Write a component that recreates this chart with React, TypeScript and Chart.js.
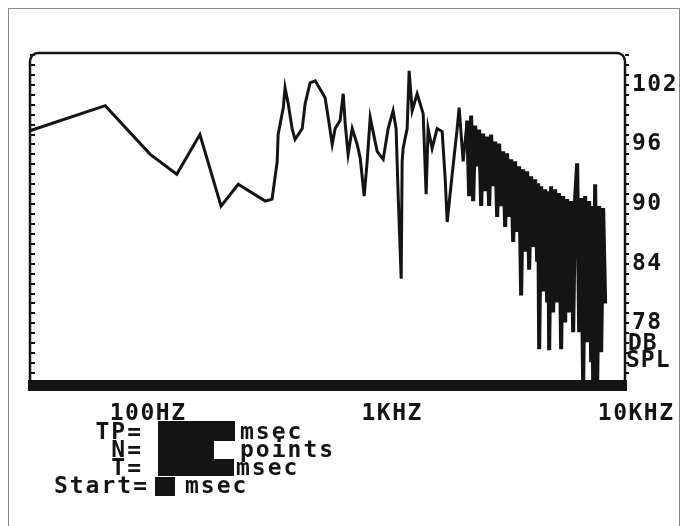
import React, { useEffect, useRef } from "react";
import { Chart, registerables } from "chart.js";
Chart.register(...registerables);

// Frequency (Hz) of each traced point of the response
const FREQ_HZ = [
  33, 66.7, 102, 131, 163, 199, 234, 302, 322, 338, 341, 358, 364, 375, 389, 400,
  428, 440, 461, 484, 517, 531, 547, 568, 584, 612, 630, 642, 660, 686, 719, 740,
  768, 790, 813, 868, 919, 963, 1009, 1038, 1058, 1089, 1099, 1109, 1152, 1174, 1208,
  1266, 1302, 1340, 1378, 1404, 1458, 1529, 1603, 1649, 1681, 1762, 1847, 1882, 1954,
  2030, 2068, 2107, 2148, 2189, 2230, 2273, 2316, 2360, 2405, 2451, 2498, 2545, 2594,
  2643, 2694, 2745, 2797, 2851, 2905, 2960, 3017, 3074, 3133, 3192, 3253, 3315, 3378,
  3443, 3508, 3575, 3643, 3713, 3784, 3856, 3929, 3966, 4004, 4080, 4158, 4236, 4317,
  4358, 4400, 4483, 4569, 4656, 4745, 4835, 4927, 5021, 5117, 5214, 5314, 5415, 5518,
  5623, 5730, 5840, 5951, 6064, 6180, 6298, 6418, 6540, 6602, 6664, 6791, 6921, 7053,
  7187, 7324, 7464
];

// Sound pressure level (dB SPL) at each frequency above
const SPL_DB = [
  97.4, 99.9, 95.0, 93.0, 97.0, 89.8, 92.0, 90.3, 90.5, 94.3, 97.0, 99.7, 101.7, 100.1, 97.6, 96.5,
  97.6, 100.1, 102.2, 102.4, 101.2, 100.7, 98.7, 96.0, 97.6, 98.4, 101.1, 98.1, 95.0, 97.6, 96.0, 94.6,
  90.8, 94.3, 98.7, 95.3, 94.5, 97.6, 99.4, 97.6, 91.0, 82.5, 94.3, 95.6, 97.6, 103.4, 99.4,
  101.1, 100.1, 99.1, 91.0, 97.6, 95.6, 97.6, 97.3, 92.6, 88.2, 93.0, 97.6, 99.7, 94.3,
  98.4, 90.8, 98.9, 90.3, 97.9, 93.8, 97.5, 89.8, 97.1, 91.3, 96.8, 89.8, 97.0, 91.8,
  96.3, 88.7, 96.1, 89.8, 95.3, 87.7, 95.1, 88.7, 94.5, 86.2, 94.3, 87.2, 93.8, 80.8,
  93.5, 85.2, 93.3, 83.4, 92.8, 85.7, 92.5, 84.2, 92.1, 75.4, 91.8, 81.2, 91.5, 80.1,
  91.3, 75.3, 91.8, 79.1, 91.5, 80.1, 91.1, 75.4, 90.8, 78.1, 90.5, 79.1, 90.3, 77.1,
  90.7, 94.1, 77.1, 90.6, 71.5, 90.8, 76.1, 90.3, 74.1, 89.8, 71.5, 92.0, 71.5, 89.8,
  75.1, 89.6, 80.0
];

const X_TICKS = [100, 1000, 10000];
const X_TICK_LABELS = ["100HZ", "1KHZ", "10KHZ"];
// every 1 dB gets a tick mark; only these get a label
const Y_TICKS = [
  73, 74, 75, 76, 77, 78, 79, 80, 81, 82, 83, 84, 85, 86, 87, 88, 89, 90, 91,
  92, 93, 94, 95, 96, 97, 98, 99, 100, 101, 102, 103, 104, 105
];
const Y_LABELED_TICKS = [78, 84, 90, 96, 102];
const Y_UNIT_LINES = ["DB", "SPL"];
const Y_MIN = 72.2;
const Y_MAX = 105.2;

const FONT_FAMILY = "'DejaVu Sans Mono', 'Liberation Mono', monospace";
const INK = "#141414";

const framePlugin = {
  id: "scopeFrame",
  beforeUpdate(chart: any) {
    chart.ctx.letterSpacing = "1.5px";
  },
  beforeDraw(chart: any) {
    chart.ctx.letterSpacing = "1.5px";
  },
  afterDatasetsDraw(chart: any) {
    const { ctx, chartArea } = chart;
    const { left, top, right, bottom } = chartArea;
    ctx.save();
    ctx.strokeStyle = INK;
    ctx.lineWidth = 2.5;
    ctx.beginPath();
    ctx.roundRect(left, top, right - left, bottom - top + 6, 8);
    ctx.stroke();
    ctx.fillStyle = INK;
    ctx.fillRect(left - 2, bottom - 1, right - left + 4, 11);
    ctx.restore();
  },
};

export default function App() {
  const ref = useRef<HTMLCanvasElement>(null);

  useEffect(() => {
    if (!ref.current) return;
    const points = FREQ_HZ.map((f, i) => ({ x: f, y: SPL_DB[i] }));
    const font = { family: FONT_FAMILY, weight: "bold" as const, size: 23 };
    const setYTicks = (s: any) => {
      s.ticks = Y_TICKS.map((v) => ({ value: v }));
    };
    const chart = new Chart(ref.current, {
      type: "line",
      data: {
        datasets: [
          {
            data: points,
            borderColor: INK,
            borderWidth: 3,
            pointRadius: 0,
            tension: 0,
            fill: false,
            segment: {
              borderWidth: (c: any) => (c.p0.parsed.x >= 2000 ? 4 : 3),
            },
          },
        ],
      },
      plugins: [framePlugin],
      options: {
        responsive: false,
        animation: false,
        layout: { padding: { top: 53, left: 0, right: 0, bottom: 0 } },
        plugins: { legend: { display: false }, tooltip: { enabled: false } },
        scales: {
          x: {
            type: "logarithmic",
            position: "bottom",
            min: 32.8,
            max: 9000,
            afterBuildTicks: (s: any) => {
              s.ticks = X_TICKS.map((v) => ({ value: v }));
            },
            afterFit: (s: any) => {
              s.height = 526 - 381;
              s.paddingLeft = 0;
              s.paddingRight = 0;
            },
            grid: { display: false },
            border: { display: false },
            ticks: {
              autoSkip: false,
              maxRotation: 0,
              color: INK,
              font,
              padding: 11,
              callback: (v: any) => {
                const i = X_TICKS.indexOf(Number(v));
                return i >= 0 ? X_TICK_LABELS[i] : "";
              },
            },
          },
          y: {
            position: "right",
            min: Y_MIN,
            max: Y_MAX,
            afterBuildTicks: setYTicks,
            afterFit: (s: any) => {
              s.width = 681 - 625;
            },
            border: { display: false },
            grid: {
              drawOnChartArea: false,
              color: INK,
              lineWidth: 2,
              tickLength: 4,
            },
            ticks: {
              autoSkip: false,
              color: INK,
              font,
              padding: 3,
              callback: (v: any) =>
                Y_LABELED_TICKS.includes(Number(v)) ? String(v) : "",
            },
          },
          yLeft: {
            position: "left",
            min: Y_MIN,
            max: Y_MAX,
            afterBuildTicks: setYTicks,
            afterFit: (s: any) => {
              s.width = 30;
            },
            border: { display: false },
            grid: {
              drawOnChartArea: false,
              color: INK,
              lineWidth: 2,
              tickLength: -5,
            },
            ticks: {
              autoSkip: false,
              color: "rgba(0,0,0,0)",
              font: { size: 1 },
              callback: () => "",
            },
          },
        },
      },
    });
    return () => chart.destroy();
  }, []);

  const txt: React.CSSProperties = {
    position: "absolute",
    fontFamily: FONT_FAMILY,
    fontWeight: "bold",
    fontSize: 23,
    letterSpacing: "2px",
    lineHeight: "18px",
    color: INK,
    whiteSpace: "pre",
  };
  const blob = (l: number, t: number, w: number, h: number): React.CSSProperties => ({
    position: "absolute",
    left: l,
    top: t,
    width: w,
    height: h,
    background: INK,
  });

  return (
    <div
      style={{
        position: "absolute",
        left: 0,
        top: 0,
        width: 681,
        height: 526,
        background: "#fff",
        overflow: "hidden",
      }}
    >
      <div
        style={{
          position: "absolute",
          left: 8,
          top: 8,
          width: 670,
          height: 530,
          borderLeft: "1px solid #8a8a84",
          borderTop: "1px solid #8a8a84",
          borderRight: "1px solid #8a8a84",
        }}
      />
      <canvas
        ref={ref}
        width={681}
        height={526}
        style={{ position: "absolute", left: 0, top: 0, width: 681, height: 526 }}
      />
      <div style={{ ...txt, left: 628, top: 333, letterSpacing: "1px" }}>{Y_UNIT_LINES[0]}</div>
      <div style={{ ...txt, left: 626, top: 350, letterSpacing: "1px" }}>{Y_UNIT_LINES[1]}</div>

      <div style={{ ...txt, left: 0, width: 143, textAlign: "right", top: 422 }}>TP=</div>
      <div style={{ ...txt, left: 0, width: 143, textAlign: "right", top: 440 }}>N=</div>
      <div style={{ ...txt, left: 0, width: 143, textAlign: "right", top: 458 }}>T=</div>
      <div style={{ ...txt, left: 0, width: 149, textAlign: "right", top: 476 }}>Start=</div>

      <div style={blob(158, 421, 77, 20)} />
      <div style={blob(158, 441, 56, 18)} />
      <div style={blob(158, 459, 76, 17)} />
      <div style={blob(155, 477, 20, 19)} />

      <div style={{ ...txt, left: 240, top: 422 }}>msec</div>
      <div style={{ ...txt, left: 240, top: 440 }}>points</div>
      <div style={{ ...txt, left: 236, top: 458 }}>msec</div>
      <div style={{ ...txt, left: 185, top: 476 }}>msec</div>
    </div>
  );
}
